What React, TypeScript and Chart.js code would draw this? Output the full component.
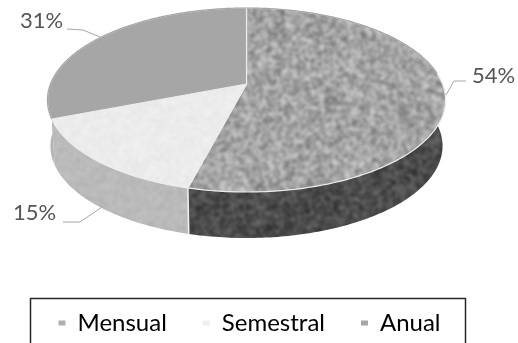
import { useEffect, useRef } from "react";
import { Chart, registerables } from "chart.js";

Chart.register(...registerables);

const categories = ["Mensual", "Semestral", "Anual"];
const shares = [54, 15, 31];
const legendColors = ["#b0b0b0", "#efefef", "#a6a6a6"];

const FONT = "Lato";
const TEXT = "#555555";
const LEADER = "#a6a6a6";

// Tilted disc: a unit circle seen in perspective, mapped onto the canvas.
const disc = { cx: 246.5, radius: 196, lift: 74.6, mid: 84, skew: -0.174, depth: 46, shrink: 0.985 };

function project(angle: number, drop = 0, scale = 1) {
  const u = Math.cos(angle);
  const v = Math.sin(angle);
  const w = 1 + disc.skew * v;
  return {
    x: disc.cx + (disc.radius * scale * u) / w,
    y: (disc.lift * v + disc.mid) / w + drop,
  };
}

// Grainy grey tile, made with a small fixed-seed generator so every render is identical.
function grain(base: number, amp: number, seed: number) {
  const cells = 128;
  const size = cells * 2;
  const small = document.createElement("canvas");
  small.width = small.height = cells;
  const sctx = small.getContext("2d")!;
  const img = sctx.createImageData(cells, cells);
  let s = seed;
  for (let i = 0; i < cells * cells; i++) {
    s = (s * 1664525 + 1013904223) >>> 0;
    const g = base + ((s >>> 16) / 65535 - 0.5) * 2 * amp;
    img.data[i * 4] = img.data[i * 4 + 1] = img.data[i * 4 + 2] = g;
    img.data[i * 4 + 3] = 255;
  }
  sctx.putImageData(img, 0, 0);

  // Lay the tile out 3x3 first, so the blur wraps cleanly across the seams.
  const sheet = document.createElement("canvas");
  sheet.width = sheet.height = size * 3;
  const shctx = sheet.getContext("2d")!;
  for (let col = 0; col < 3; col++) {
    for (let row = 0; row < 3; row++) {
      shctx.drawImage(small, col * size, row * size, size, size);
    }
  }
  const big = document.createElement("canvas");
  big.width = big.height = size;
  const bctx = big.getContext("2d")!;
  bctx.filter = "blur(1.4px)";
  bctx.drawImage(sheet, -size, -size);
  return bctx.createPattern(big, "repeat")!;
}

function traceEdge(ctx: CanvasRenderingContext2D, from: number, to: number, drop: number, scale: number, first: boolean) {
  const steps = Math.max(8, Math.ceil(Math.abs(to - from) * 60));
  for (let i = 0; i <= steps; i++) {
    const p = project(from + ((to - from) * i) / steps, drop, scale);
    if (i === 0 && first) ctx.moveTo(p.x, p.y);
    else ctx.lineTo(p.x, p.y);
  }
}

function leader(ctx: CanvasRenderingContext2D, pts: number[][]) {
  ctx.beginPath();
  pts.forEach(([x, y], i) => (i ? ctx.lineTo(x, y) : ctx.moveTo(x, y)));
  ctx.strokeStyle = LEADER;
  ctx.lineWidth = 1;
  ctx.stroke();
}

export default function App() {
  const ref = useRef<HTMLCanvasElement>(null);

  useEffect(() => {
    const canvas = ref.current!;
    const tops = [grain(163, 60, 7), grain(236, 8, 19), "#a6a6a6"];
    const walls = [grain(76, 40, 31), grain(186, 12, 43), "#b4b4b4"];

    const tiltedDisc = {
      id: "tiltedDisc",
      beforeDatasetDraw(chart: Chart) {
        const { ctx } = chart;
        const arcs = chart.getDatasetMeta(0).data as any[];
        ctx.save();

        // Side wall, farthest slice first so the nearer slices overlap it.
        [2, 1, 0].forEach((i) => {
          const { startAngle, endAngle } = arcs[i];
          ctx.beginPath();
          traceEdge(ctx, startAngle, endAngle, 0, 1, true);
          traceEdge(ctx, endAngle, startAngle, disc.depth, disc.shrink, false);
          ctx.closePath();
          ctx.fillStyle = walls[i];
          ctx.fill();
        });

        // Seam between the two visible wall sections.
        const seamTop = project(arcs[0].endAngle);
        const seamBottom = project(arcs[0].endAngle, disc.depth, disc.shrink);
        ctx.beginPath();
        ctx.moveTo(seamTop.x, seamTop.y);
        ctx.lineTo(seamBottom.x, seamBottom.y);
        ctx.strokeStyle = "#f2f2f2";
        ctx.lineWidth = 1.5;
        ctx.stroke();

        // Top face of each slice.
        arcs.forEach((arc, i) => {
          ctx.beginPath();
          ctx.moveTo(disc.cx, disc.mid);
          traceEdge(ctx, arc.startAngle, arc.endAngle, 0, 1, false);
          ctx.closePath();
          ctx.fillStyle = tops[i];
          ctx.fill();
          ctx.strokeStyle = "#ececec";
          ctx.lineWidth = 1.2;
          ctx.lineJoin = "round";
          ctx.stroke();
        });

        // Keep the outer rim solid against the white page.
        ctx.beginPath();
        traceEdge(ctx, arcs[2].startAngle, arcs[2].endAngle, 0, 1, true);
        ctx.strokeStyle = "#a6a6a6";
        ctx.lineWidth = 1.2;
        ctx.stroke();
        ctx.beginPath();
        traceEdge(ctx, arcs[0].startAngle, arcs[0].startAngle + 1.45, 0, 1, true);
        ctx.strokeStyle = "#a3a3a3";
        ctx.stroke();

        ctx.restore();
        return false;
      },
      afterDatasetsDraw(chart: Chart) {
        const { ctx } = chart;
        ctx.save();
        leader(ctx, [[67, 29], [83, 30], [100, 37]]);
        leader(ctx, [[466, 81], [454, 81], [446, 95]]);
        leader(ctx, [[63, 222], [80, 222], [102, 207]]);

        ctx.fillStyle = TEXT;
        ctx.font = `22px ${FONT}`;
        ctx.textBaseline = "middle";
        ctx.textAlign = "left";
        const labelAt = [
          [472, 76],
          [13, 213],
          [20, 21],
        ];
        shares.forEach((v, i) => ctx.fillText(`${v}%`, labelAt[i][0], labelAt[i][1]));

        // Legend frame runs off the lower edge of the canvas.
        ctx.strokeStyle = "#262626";
        ctx.lineWidth = 1.5;
        ctx.strokeRect(30.5, 298.5, 435, 60);
        ctx.restore();
      },
    };

    const chart = new Chart(canvas, {
      type: "doughnut",
      data: {
        labels: categories,
        datasets: [{ data: shares, borderWidth: 0 }],
      },
      plugins: [tiltedDisc],
      options: {
        responsive: false,
        animation: false,
        cutout: 0,
        layout: { padding: { bottom: -2, right: 19 } },
        plugins: {
          tooltip: { enabled: false },
          legend: {
            position: "bottom",
            labels: {
              boxWidth: 7,
              boxHeight: 5,
              padding: 36,
              color: TEXT,
              font: { family: FONT, size: 24 },
              generateLabels: () =>
                categories.map((text, i) => ({
                  text,
                  fillStyle: legendColors[i],
                  strokeStyle: legendColors[i],
                  lineWidth: 0,
                  hidden: false,
                  index: i,
                })),
            },
          },
        },
      },
    } as any);
    return () => chart.destroy();
  }, []);

  return (
    <div style={{ position: "absolute", left: 0, top: 0, width: 518, height: 343, background: "#fff" }}>
      <canvas ref={ref} width={518} height={343} style={{ display: "block" }} />
    </div>
  );
}
